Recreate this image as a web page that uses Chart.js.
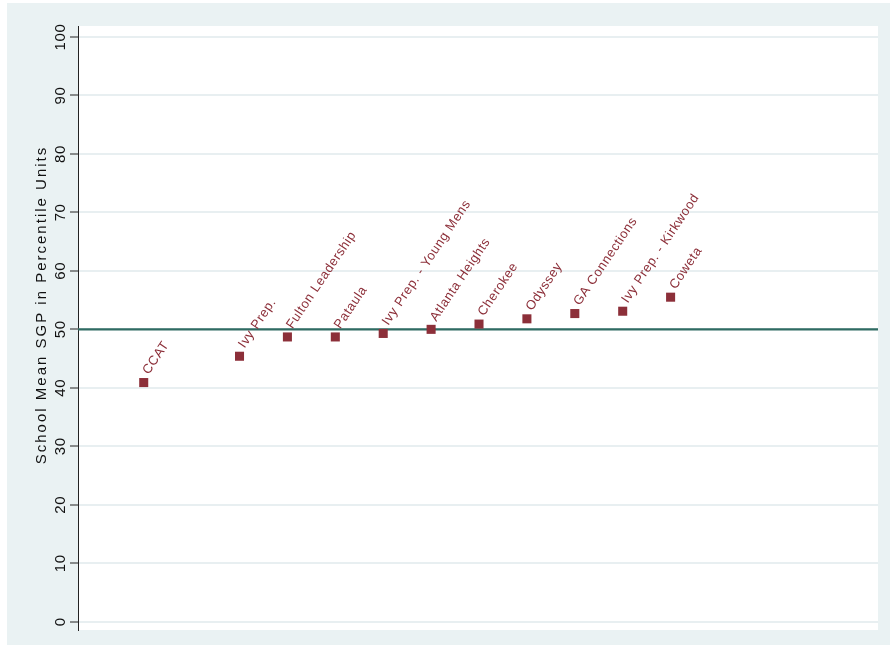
<!DOCTYPE html>
<html>
<head>
<meta charset="utf-8">
<script src="https://cdn.jsdelivr.net/npm/chart.js@4"></script>
<style>
  html, body { margin: 0; padding: 0; background: #fff; }
  #Chart { position: absolute; left: 7px; top: 3px; }
</style>
</head>
<body>
<canvas id="Chart" width="883" height="642"></canvas>
<script>
// school names, their position along the (hidden) x axis and mean SGP
const schools = ['CCAT', 'Ivy Prep.', 'Fulton Leadership', 'Pataula', 'Ivy Prep. - Young Mens',
  'Atlanta Heights', 'Cherokee', 'Odyssey', 'GA Connections', 'Ivy Prep. - Kirkwood', 'Coweta'];
const rankPos = [1, 3, 4, 5, 6, 7, 8, 9, 10, 11, 12];
const meanSGP = [40.9, 45.4, 48.7, 48.7, 49.3, 50.0, 50.9, 51.8, 52.7, 53.1, 55.5];
const yTicks = [0, 10, 20, 30, 40, 50, 60, 70, 80, 90, 100];
const refLine = 50;
const xRange = [-0.372, 16.33];

const FONT = '"Liberation Sans", Arial, Helvetica, sans-serif';
const RED = '#8C2F39';

const bgPlugin = {
  id: 'bg',
  beforeDraw(chart) {
    const { ctx, chartArea: a, width, height } = chart;
    ctx.save();
    ctx.fillStyle = '#EAF2F3';
    ctx.fillRect(0, 0, width, height);
    ctx.fillStyle = '#fff';
    ctx.fillRect(a.left, a.top, a.right - a.left, a.bottom - a.top);
    ctx.restore();
  }
};

// rotated y tick labels and axis title
const yText = {
  id: 'yText',
  afterDraw(chart) {
    const ctx = chart.ctx, y = chart.scales.y, a = chart.chartArea;
    ctx.save();
    ctx.fillStyle = '#111';
    ctx.textAlign = 'center';
    ctx.textBaseline = 'alphabetic';
    ctx.font = '15px ' + FONT;
    ctx.letterSpacing = '0.6px';
    yTicks.forEach(v => {
      ctx.save();
      ctx.translate(a.left - 13, y.getPixelForValue(v));
      ctx.rotate(-Math.PI / 2);
      ctx.fillText(String(v), 0, 0);
      ctx.restore();
    });
    ctx.letterSpacing = '2px';
    ctx.translate(a.left - 32, (a.top + a.bottom) / 2 - 23);
    ctx.rotate(-Math.PI / 2);
    ctx.fillText('School Mean SGP in Percentile Units', 0, 0);
    ctx.restore();
  }
};

// angled marker labels
const markLabels = {
  id: 'markLabels',
  afterDatasetsDraw(chart) {
    const ctx = chart.ctx;
    const meta = chart.getDatasetMeta(0);
    ctx.save();
    ctx.fillStyle = RED;
    ctx.font = '13px ' + FONT;
    ctx.letterSpacing = '0.6px';
    ctx.textAlign = 'left';
    ctx.textBaseline = 'alphabetic';
    meta.data.forEach((pt, i) => {
      ctx.save();
      ctx.translate(pt.x, pt.y);
      ctx.rotate(-56 * Math.PI / 180);
      ctx.fillText(schools[i], 9, 0);
      ctx.restore();
    });
    ctx.restore();
  }
};

new Chart(document.getElementById('Chart'), {
  type: 'scatter',
  data: {
    datasets: [{
      data: rankPos.map((x, i) => ({ x: x, y: meanSGP[i] })),
      pointStyle: 'rect',
      pointRadius: 6.4,
      pointBackgroundColor: RED,
      pointBorderWidth: 0
    }, {
      type: 'line',
      data: xRange.map(x => ({ x: x, y: refLine })),
      borderColor: '#2F6B62',
      borderWidth: 2.2,
      pointRadius: 0
    }]
  },
  options: {
    responsive: false,
    animation: false,
    events: [],
    layout: { padding: { left: 63, right: 12, top: 23, bottom: 15 } },
    scales: {
      x: { type: 'linear', display: false, min: xRange[0], max: xRange[1] },
      y: {
        min: -1.42,
        max: 101.88,
        afterBuildTicks: s => { s.ticks = yTicks.map(v => ({ value: v })); },
        afterFit: s => { s.width = 8; },
        ticks: { display: false },
        grid: { color: '#E8EFF1', lineWidth: 2, tickLength: 8, tickColor: '#222', tickWidth: 1 },
        border: { color: '#222', width: 1 }
      }
    },
    plugins: { legend: { display: false }, tooltip: { enabled: false } }
  },
  plugins: [bgPlugin, yText, markLabels]
});
</script>
</body>
</html>
